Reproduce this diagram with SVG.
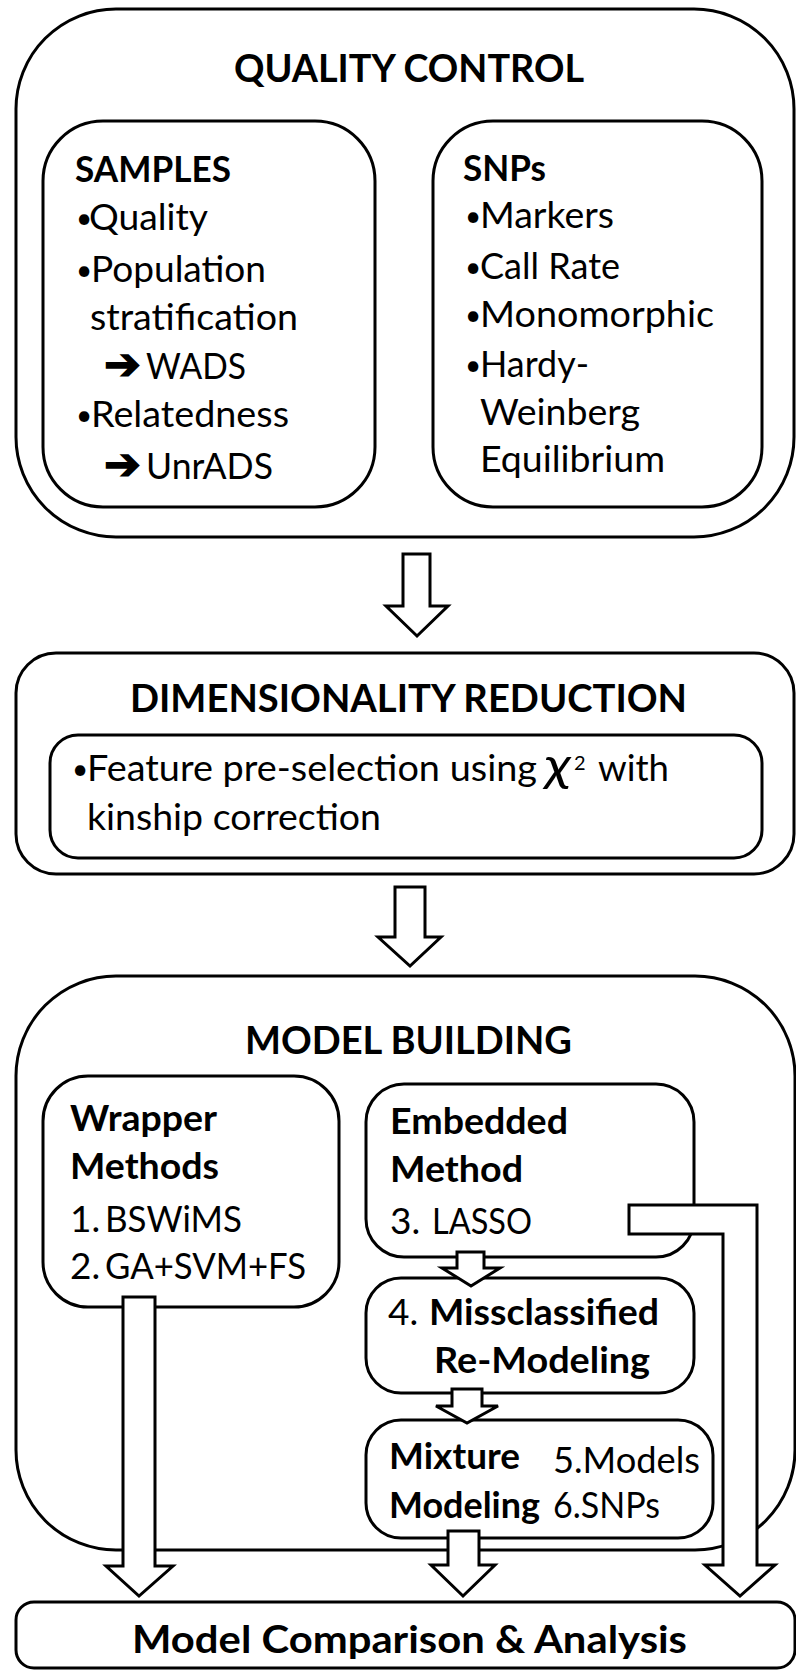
<svg xmlns="http://www.w3.org/2000/svg" width="796" height="1671" viewBox="0 0 796 1671">
  <style>
    .box { fill: #fff; stroke: #000; stroke-width: 3; }
    .arr { fill: #fff; stroke: #000; stroke-width: 3; stroke-linejoin: miter; }
    text { font-family: Lato, "Liberation Sans", sans-serif; fill: #000; }
    .h { font-weight: 700; font-size: 38px; }
    .r { font-size: 37px; }
    .b { font-size: 37px; font-weight: 700; }
    .dot { font-size: 28px; }
    .sym { font-family: "DejaVu Sans", sans-serif; font-size: 44px; stroke: #000; stroke-width: 1.5; }
  </style>
  <rect width="796" height="1671" fill="#fff"/>

  <!-- Stage 1: quality control -->
  <g id="quality-control">
    <rect class="box" x="16" y="9" width="778" height="528" rx="100" ry="100"/>
    <text class="h" x="234" y="82" textLength="350" lengthAdjust="spacingAndGlyphs">QUALITY CONTROL</text>
  </g>
  <g id="samples">
    <rect class="box" x="43" y="121" width="332" height="386" rx="60" ry="60"/>
    <text class="b" x="75" y="182" textLength="156" lengthAdjust="spacingAndGlyphs">SAMPLES</text>
    <text class="dot" x="76" y="228">•</text>
    <text class="r" x="89" y="230" textLength="119" lengthAdjust="spacingAndGlyphs">Quality</text>
    <text class="dot" x="76" y="280">•</text>
    <text class="r" x="91" y="282" textLength="175" lengthAdjust="spacingAndGlyphs">Population</text>
    <text class="r" x="90" y="330" textLength="208" lengthAdjust="spacingAndGlyphs">stratification</text>
    <text class="sym" x="104" y="379">➔</text>
    <text class="r" x="146" y="379" textLength="100" lengthAdjust="spacingAndGlyphs">WADS</text>
    <text class="dot" x="76" y="425">•</text>
    <text class="r" x="91" y="427" textLength="198" lengthAdjust="spacingAndGlyphs">Relatedness</text>
    <text class="sym" x="104" y="479">➔</text>
    <text class="r" x="146" y="479" textLength="127" lengthAdjust="spacingAndGlyphs">UnrADS</text>
  </g>
  <g id="snps">
    <rect class="box" x="433" y="121" width="329" height="386" rx="60" ry="60"/>
    <text class="b" x="463" y="181" textLength="83" lengthAdjust="spacingAndGlyphs">SNPs</text>
    <text class="dot" x="465" y="226">•</text>
    <text class="r" x="480" y="228" textLength="134" lengthAdjust="spacingAndGlyphs">Markers</text>
    <text class="dot" x="465" y="277">•</text>
    <text class="r" x="480" y="279" textLength="140" lengthAdjust="spacingAndGlyphs">Call Rate</text>
    <text class="dot" x="465" y="325">•</text>
    <text class="r" x="480" y="327" textLength="234" lengthAdjust="spacingAndGlyphs">Monomorphic</text>
    <text class="dot" x="465" y="375">•</text>
    <text class="r" x="480" y="377" textLength="109" lengthAdjust="spacingAndGlyphs">Hardy-</text>
    <text class="r" x="480" y="425" textLength="160" lengthAdjust="spacingAndGlyphs">Weinberg</text>
    <text class="r" x="480" y="472" textLength="185" lengthAdjust="spacingAndGlyphs">Equilibrium</text>
  </g>

  <!-- Stage 2: dimensionality reduction -->
  <g id="dimensionality-reduction">
    <rect class="box" x="16" y="653" width="778" height="221" rx="40" ry="40"/>
    <text class="h" x="130" y="712" textLength="557" lengthAdjust="spacingAndGlyphs">DIMENSIONALITY REDUCTION</text>
  </g>
  <g id="feature-preselection">
    <rect class="box" x="50" y="735" width="712" height="123" rx="28" ry="28"/>
    <text class="dot" x="72" y="779">•</text>
    <text class="r" x="87" y="781" textLength="450" lengthAdjust="spacingAndGlyphs">Feature pre-selection using</text>
    <text x="545" y="781" font-family="'DejaVu Serif', 'Liberation Serif', serif" font-style="italic" font-size="46" textLength="26" lengthAdjust="spacingAndGlyphs">χ</text>
    <text x="574" y="770" font-size="20">2</text>
    <text class="r" x="598" y="781" textLength="71" lengthAdjust="spacingAndGlyphs">with</text>
    <text class="r" x="87" y="830" textLength="294" lengthAdjust="spacingAndGlyphs">kinship correction</text>
  </g>

  <!-- Stage 3: model building -->
  <g id="model-building">
    <rect class="box" x="16" y="976" width="779" height="574" rx="100" ry="100"/>
    <text class="h" x="245" y="1054" textLength="327" lengthAdjust="spacingAndGlyphs">MODEL BUILDING</text>
  </g>
  <g id="wrapper-methods">
    <rect class="box" x="43" y="1076" width="296" height="231" rx="45" ry="45"/>
    <text class="b" x="70" y="1131" textLength="147" lengthAdjust="spacingAndGlyphs">Wrapper</text>
    <text class="b" x="70" y="1179" textLength="149" lengthAdjust="spacingAndGlyphs">Methods</text>
    <text class="r" x="70" y="1232">1.</text>
    <text class="r" x="105" y="1232" textLength="137" lengthAdjust="spacingAndGlyphs">BSWiMS</text>
    <text class="r" x="70" y="1279">2.</text>
    <text class="r" x="105" y="1279" textLength="201" lengthAdjust="spacingAndGlyphs">GA+SVM+FS</text>
  </g>
  <g id="embedded-method">
    <rect class="box" x="366" y="1084" width="328" height="173" rx="38" ry="38"/>
    <text class="b" x="390" y="1134" textLength="178" lengthAdjust="spacingAndGlyphs">Embedded</text>
    <text class="b" x="390" y="1182" textLength="133" lengthAdjust="spacingAndGlyphs">Method</text>
    <text class="r" x="390" y="1234">3.</text>
    <text class="r" x="432" y="1234" textLength="100" lengthAdjust="spacingAndGlyphs">LASSO</text>
  </g>
  <g id="missclassified-remodeling">
    <rect class="box" x="366" y="1278" width="328" height="115" rx="35" ry="35"/>
    <text class="r" x="388" y="1325">4.</text>
    <text class="b" x="429" y="1325" textLength="230" lengthAdjust="spacingAndGlyphs">Missclassified</text>
    <text class="b" x="434" y="1373" textLength="216" lengthAdjust="spacingAndGlyphs">Re-Modeling</text>
  </g>
  <g id="mixture-modeling">
    <rect class="box" x="366" y="1420" width="347" height="118" rx="35" ry="35"/>
    <text class="b" x="389" y="1469" textLength="131" lengthAdjust="spacingAndGlyphs">Mixture</text>
    <text class="b" x="389" y="1518" textLength="151" lengthAdjust="spacingAndGlyphs">Modeling</text>
    <text class="r" x="553" y="1473" textLength="147" lengthAdjust="spacingAndGlyphs">5.Models</text>
    <text class="r" x="553" y="1518" textLength="107" lengthAdjust="spacingAndGlyphs">6.SNPs</text>
  </g>

  <!-- Stage 4: comparison -->
  <g id="model-comparison">
    <rect class="box" x="16" y="1602" width="779" height="66" rx="18" ry="18"/>
    <text class="h" x="132" y="1653" font-size="40" textLength="555" lengthAdjust="spacingAndGlyphs">Model Comparison &amp; Analysis</text>
  </g>

  <!-- Block arrows between stages -->
  <g id="connectors">
    <polygon class="arr" points="403,554 430,554 430,606 448,606 417,636 386,606 403,606"/>
    <polygon class="arr" points="395,887 425,887 425,937 441,937 410,966 378,937 395,937"/>
    <polygon class="arr" points="123,1297 155,1297 155,1566 173,1566 139,1596 106,1566 123,1566"/>
    <polygon class="arr" points="457,1252 484,1252 484,1268 500,1268 471,1286 442,1268 457,1268"/>
    <polygon class="arr" points="452,1389 482,1389 482,1406 498,1406 467,1423 436,1406 452,1406"/>
    <polygon class="arr" points="448,1531 479,1531 479,1565 495,1565 463,1596 431,1565 448,1565"/>
    <polygon class="arr" points="629,1205 757,1205 757,1565 775,1565 740,1596 705,1565 723,1565 723,1234 629,1234"/>
  </g>
</svg>
